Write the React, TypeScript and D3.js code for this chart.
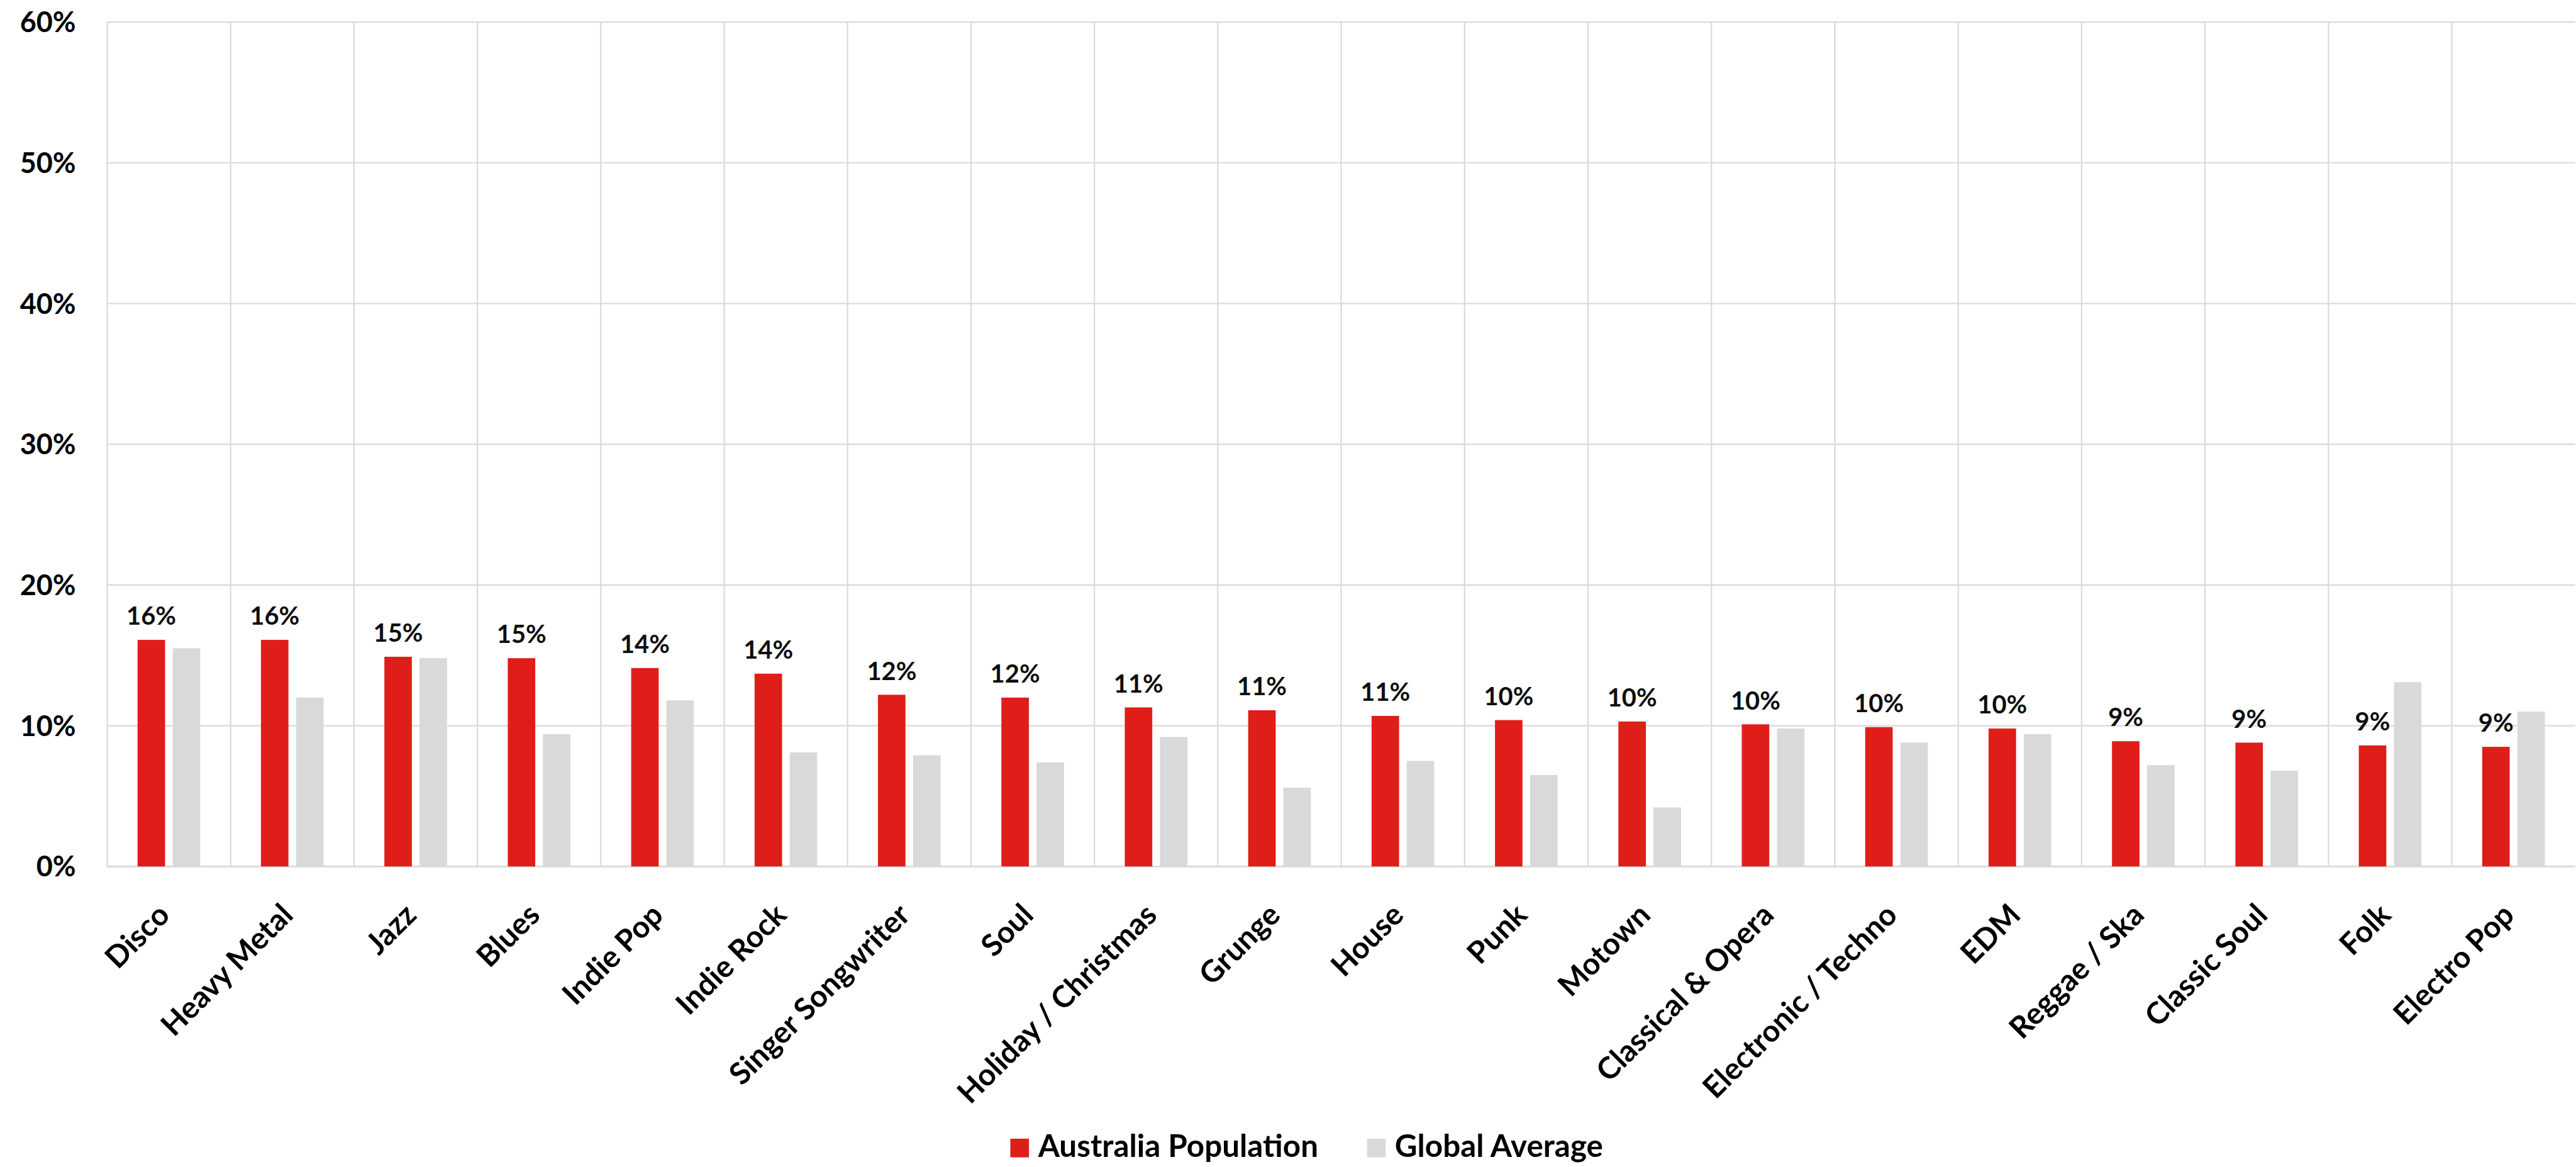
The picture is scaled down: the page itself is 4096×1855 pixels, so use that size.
import React, { useMemo } from "react";
import * as d3 from "d3";

const categories = [
  "Disco", "Heavy Metal", "Jazz", "Blues", "Indie Pop", "Indie Rock",
  "Singer Songwriter", "Soul", "Holiday / Christmas", "Grunge", "House",
  "Punk", "Motown", "Classical & Opera", "Electronic / Techno", "EDM",
  "Reggae / Ska", "Classic Soul", "Folk", "Electro Pop",
];
const australia = [16.1, 16.1, 14.9, 14.8, 14.1, 13.7, 12.2, 12.0, 11.3, 11.1, 10.7, 10.4, 10.3, 10.1, 9.9, 9.8, 8.9, 8.8, 8.6, 8.5];
const globalAvg = [15.5, 12.0, 14.8, 9.4, 11.8, 8.1, 7.9, 7.4, 9.2, 5.6, 7.5, 6.5, 4.2, 9.8, 8.8, 9.4, 7.2, 6.8, 13.1, 11.0];
const seriesNames = ["Australia Population", "Global Average"];
const yTicks = [0, 10, 20, 30, 40, 50, 60];

const COLORS = ["#DF1E19", "#D9D9D9"];
const FONT = "Lato, 'Open Sans', sans-serif";

function fitSize(text: string, target: number): number {
  try {
    const ctx = document.createElement("canvas").getContext("2d");
    if (!ctx) return 48;
    ctx.font = "bold 100px Lato";
    const w = ctx.measureText(text).width;
    return (100 * target) / w;
  } catch (e) {
    return 48;
  }
}

export default function App() {
  const S = 0.988;
  const left = 172.5;
  const catW = 198.6;
  const right = left + catW * categories.length;
  const top = 35.5;
  const bottom = 1394;

  const sizes = useMemo(
    () => ({
      axis: fitSize("60%", 90),
      data: fitSize("10%", 80),
      xlab: fitSize("Holiday / Christmas", 430),
      legend: fitSize("Australia Population", 451),
    }),
    []
  );

  const x = d3.scaleBand<string>().domain(categories).range([left, right]).paddingInner(0).paddingOuter(0);
  const xi = d3.scaleBand<string>().domain(seriesNames).range([0, x.bandwidth()]).paddingInner(0.218).paddingOuter(0.864);
  const y = d3.scaleLinear().domain([0, 60]).range([bottom, top]);

  const series = [australia, globalAvg];

  return (
    <svg
      width={4096}
      height={1855}
      style={{ position: "absolute", left: 0, top: 0, background: "#fff" }}
    >
      <rect x={0} y={0} width={4096} height={1855} fill="#fff" />
      <g transform={`scale(${S})`} fontFamily={FONT} fontWeight="bold">
        {/* horizontal gridlines */}
        {yTicks.map((t) => (
          <line key={"h" + t} x1={left} x2={right} y1={y(t)} y2={y(t)} stroke="#D9D9D9" strokeWidth={t === 0 ? 2.8 : 2.2} />
        ))}
        {/* vertical gridlines */}
        {categories.map((c) => (
          <line key={"v" + c} x1={x(c)!} x2={x(c)!} y1={top} y2={bottom} stroke="#D9D9D9" strokeWidth={2.2} />
        ))}
        {/* y tick labels */}
        {yTicks.map((t) => (
          <text key={"yl" + t} x={122} y={y(t)} dy="0.36em" textAnchor="end" fontSize={sizes.axis} fill="#000">
            {`${t}%`}
          </text>
        ))}
        {/* bars */}
        {series.map((vals, si) =>
          vals.map((v, i) => (
            <rect
              key={`b${si}-${i}`}
              x={x(categories[i])! + xi(seriesNames[si])!}
              y={y(v)}
              width={xi.bandwidth()}
              height={y(0) - y(v)}
              fill={COLORS[si]}
            />
          ))
        )}
        {/* data labels */}
        {australia.map((v, i) => (
          <text
            key={"dl" + i}
            x={x(categories[i])! + xi(seriesNames[0])! + xi.bandwidth() / 2}
            y={y(v) - 24}
            textAnchor="middle"
            fontSize={sizes.data}
            fill="#0D0D0D"
          >
            {`${Math.round(v)}%`}
          </text>
        ))}
        {/* x labels */}
        {categories.map((c) => {
          const px = x(c)! + x.bandwidth() / 2 + 4;
          const py = 1475;
          return (
            <text
              key={"xl" + c}
              x={px}
              y={py}
              transform={`rotate(-45 ${px} ${py})`}
              textAnchor="end"
              fontSize={sizes.xlab}
              fill="#000"
            >
              {c}
            </text>
          );
        })}
        {/* legend */}
        <g>
          <rect x={1626} y={1832} width={30} height={30} fill={COLORS[0]} />
          <text x={1670.7} y={1861.7} fontSize={sizes.legend} fill="#000">
            {seriesNames[0]}
          </text>
          <rect x={2200} y={1832} width={30} height={30} fill={COLORS[1]} />
          <text x={2244.7} y={1861.7} fontSize={sizes.legend} fill="#000">
            {seriesNames[1]}
          </text>
        </g>
      </g>
    </svg>
  );
}
